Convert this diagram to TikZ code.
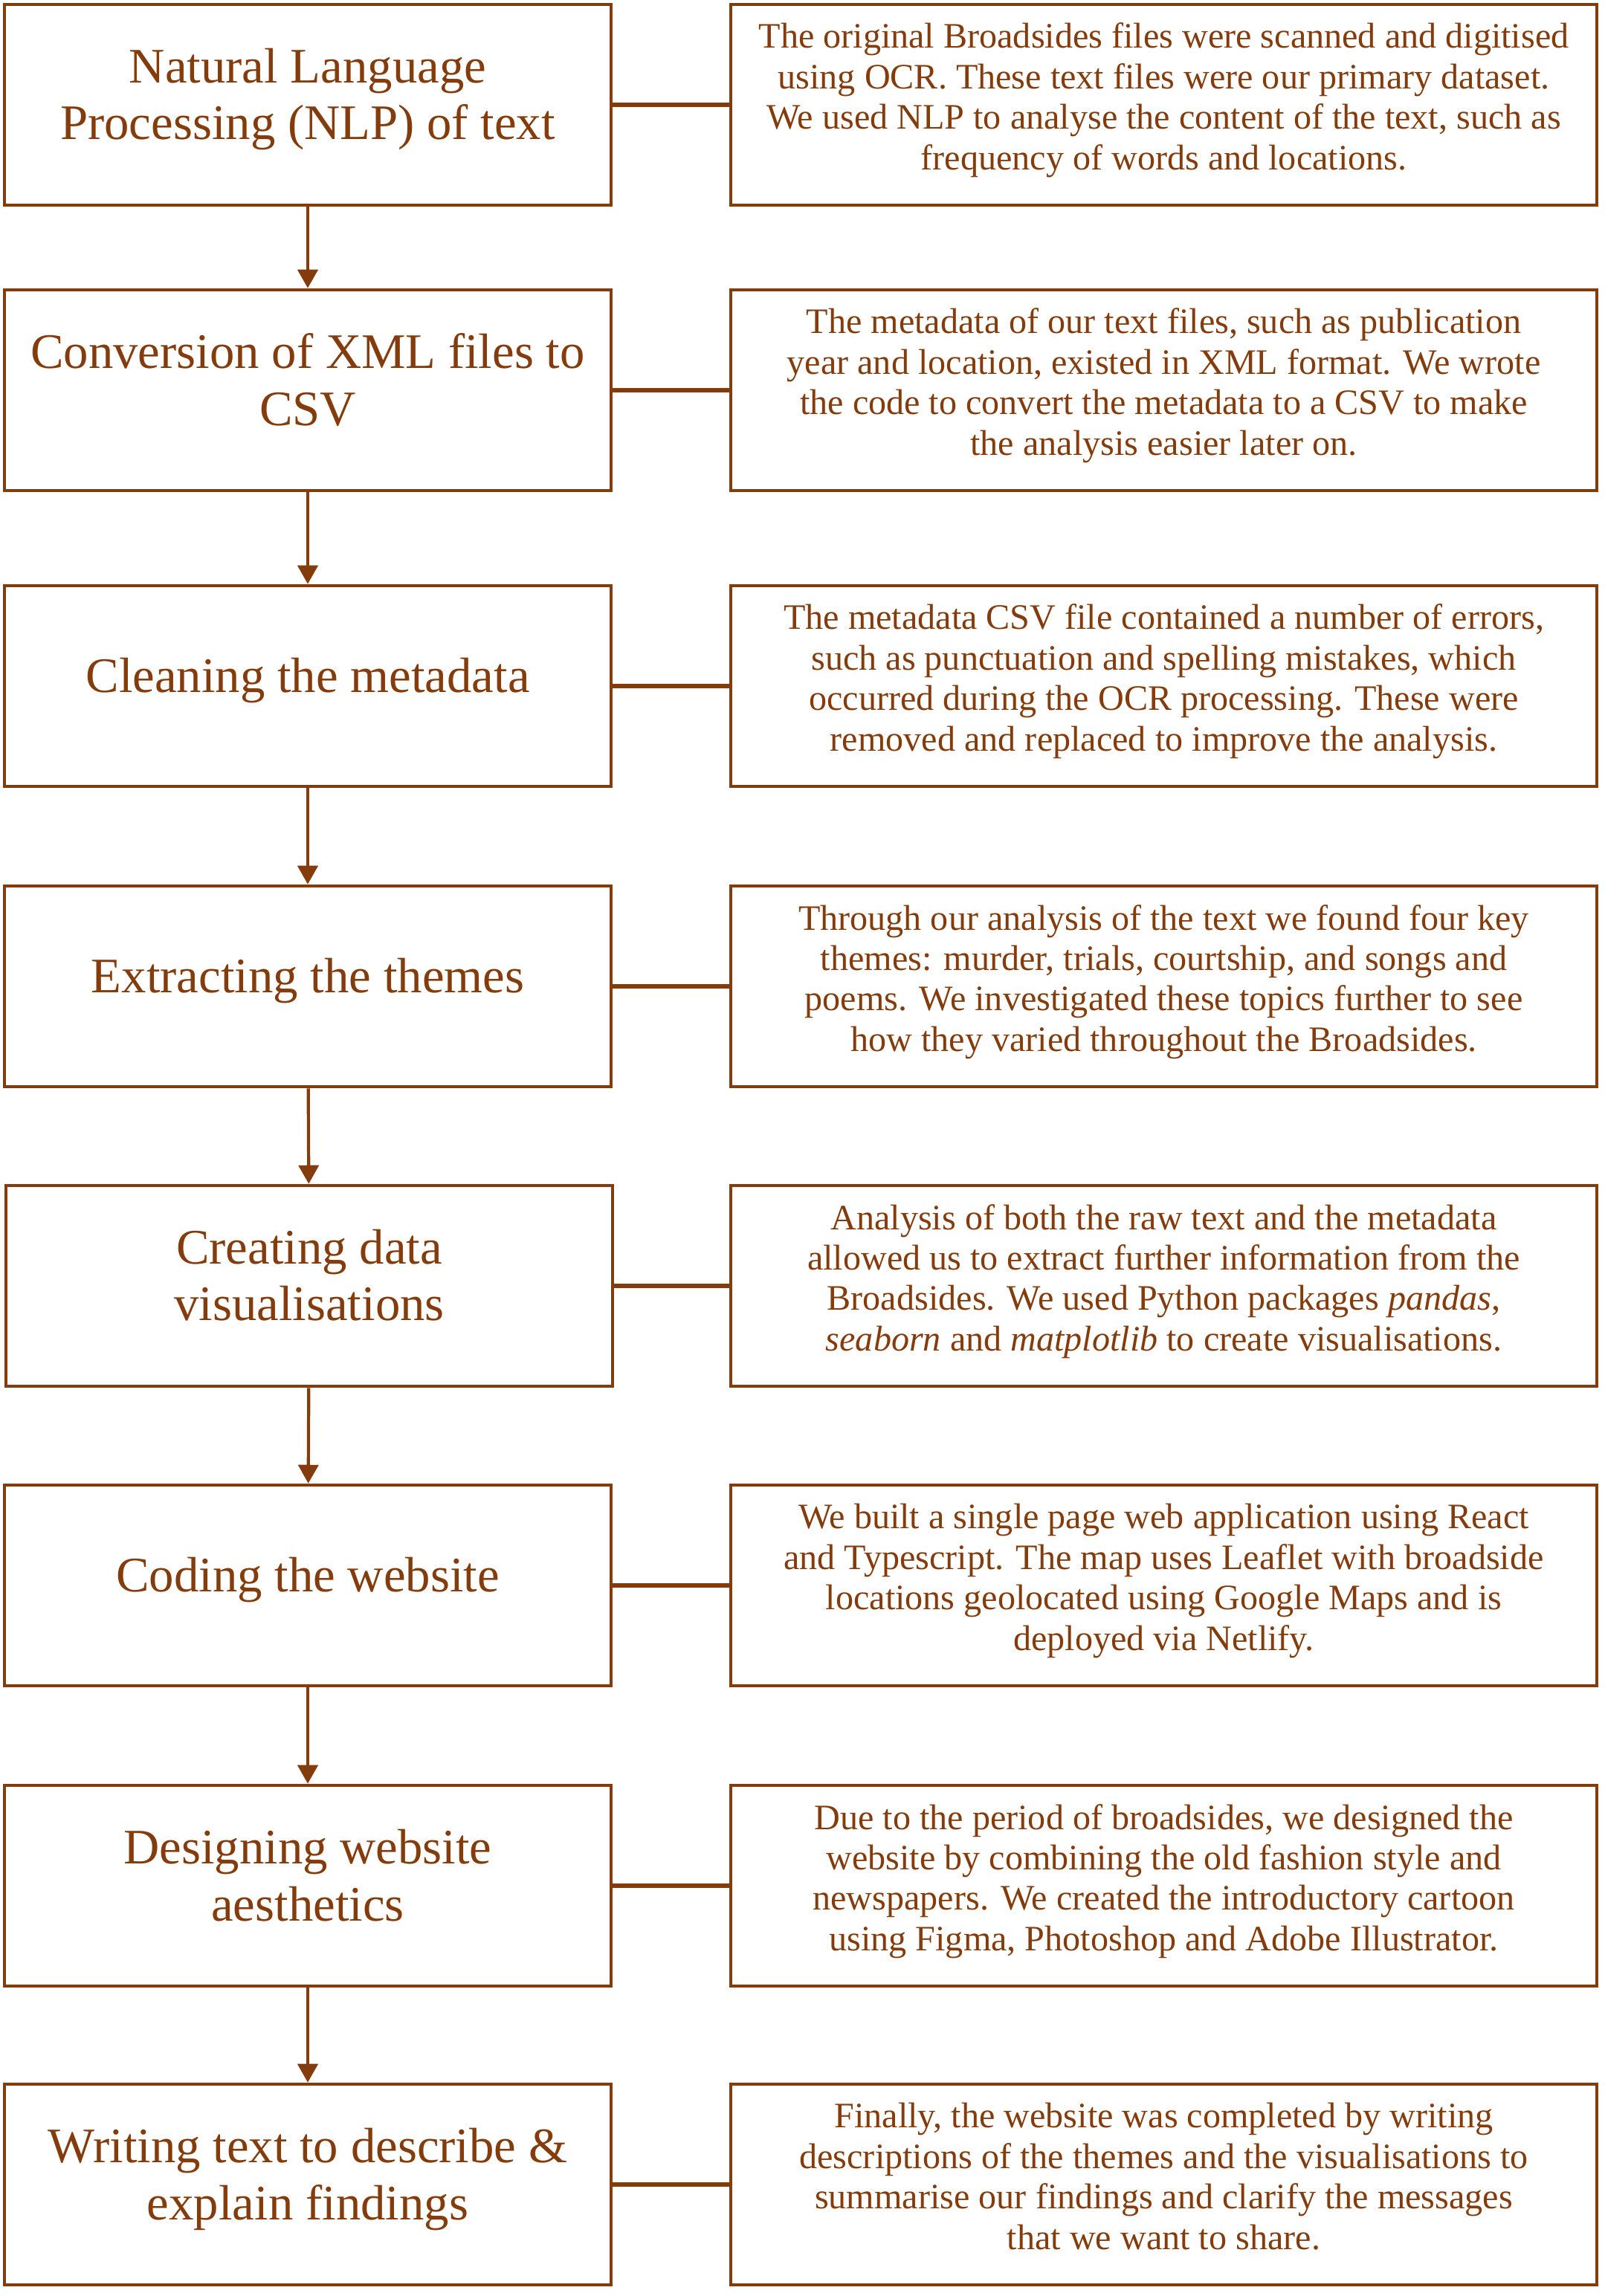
\documentclass[tikz,border=0pt]{standalone}
\usepackage{fontspec}
\setmainfont{Liberation Serif}
\usepackage{xcolor}
\usepackage{tikz}
\usetikzlibrary{arrows.meta}
\definecolor{rust}{RGB}{132,60,12}

\begin{document}
\begin{tikzpicture}[
		stage/.style={draw=rust, line width=1.3pt, minimum width=8.16cm, minimum height=2.70cm, align=center, text=rust, font=\fontsize{19}{21.8}\selectfont, inner sep=0pt, execute at end node={\rule[-2.9mm]{0pt}{0pt}}},
		detail/.style={draw=rust, line width=1.3pt, minimum width=11.65cm, minimum height=2.70cm, align=center, text=rust, font=\fontsize{13.7}{15.5}\selectfont, inner sep=0pt, execute at end node={\rule[-2.25mm]{0pt}{0pt}}},
		link/.style={draw=rust, line width=1.7pt},
		flow/.style={draw=rust, line width=1.2pt, -{Triangle[length=2.5mm, width=2.7mm]}}
	]
						\useasboundingbox (0,0) rectangle (21.58,-30.89);
						\node[stage] (nlp) at (4.14,-1.41) {Natural Language\\Processing (NLP) of text};
						\node[stage] (xml) at (4.14,-5.25) {Conversion of XML files to\\CSV};
						\node[stage] (clean) at (4.14,-9.23) {Cleaning the metadata};
						\node[stage] (themes) at (4.14,-13.27) {Extracting the themes};
						\node[stage] (vis) at (4.16,-17.30) {Creating data\\visualisations};
						\node[stage] (code) at (4.14,-21.33) {Coding the website};
						\node[stage] (design) at (4.14,-25.37) {Designing website\\aesthetics};
						\node[stage] (write) at (4.14,-29.39) {Writing text to describe \&\\explain findings};
						\node[detail] (nlpinfo) at (15.655,-1.41) {The original Broadsides files were scanned and digitised\\using OCR. These text files were our primary dataset.\\We used NLP to analyse the content of the text, such as\\frequency of words and locations.};
						\node[detail] (xmlinfo) at (15.655,-5.25) {The metadata of our text files, such as publication\\year and location, existed in XML format. We wrote\\the code to convert the metadata to a CSV to make\\the analysis easier later on.};
						\node[detail] (cleaninfo) at (15.655,-9.23) {The metadata CSV file contained a number of errors,\\such as punctuation and spelling mistakes, which\\occurred during the OCR processing. These were\\removed and replaced to improve the analysis.};
						\node[detail] (themesinfo) at (15.655,-13.27) {Through our analysis of the text we found four key\\themes: murder, trials, courtship, and songs and\\poems. We investigated these topics further to see\\how they varied throughout the Broadsides.};
						\node[detail] (visinfo) at (15.655,-17.30) {Analysis of both the raw text and the metadata\\allowed us to extract further information from the\\Broadsides. We used Python packages \textit{pandas},\\\textit{seaborn} and \textit{matplotlib} to create visualisations.};
						\node[detail] (codeinfo) at (15.655,-21.33) {We built a single page web application using React\\and Typescript. The map uses Leaflet with broadside\\locations geolocated using Google Maps and is\\deployed via Netlify.};
						\node[detail] (designinfo) at (15.655,-25.37) {Due to the period of broadsides, we designed the\\website by combining the old fashion style and\\newspapers. We created the introductory cartoon\\using Figma, Photoshop and Adobe Illustrator.};
						\node[detail] (writeinfo) at (15.655,-29.39) {Finally, the website was completed by writing\\descriptions of the themes and the visualisations to\\summarise our findings and clarify the messages\\that we want to share.};
						\draw[link] (nlp) -- (nlpinfo);
						\draw[link] (xml) -- (xmlinfo);
						\draw[link] (clean) -- (cleaninfo);
						\draw[link] (themes) -- (themesinfo);
						\draw[link] (vis) -- (visinfo);
						\draw[link] (code) -- (codeinfo);
						\draw[link] (design) -- (designinfo);
						\draw[link] (write) -- (writeinfo);
						\draw[flow] (nlp) -- (xml);
						\draw[flow] (xml) -- (clean);
						\draw[flow] (clean) -- (themes);
						\draw[flow] (themes) -- (vis);
						\draw[flow] (vis) -- (code);
						\draw[flow] (code) -- (design);
						\draw[flow] (design) -- (write);
					\end{tikzpicture}
\end{document}
